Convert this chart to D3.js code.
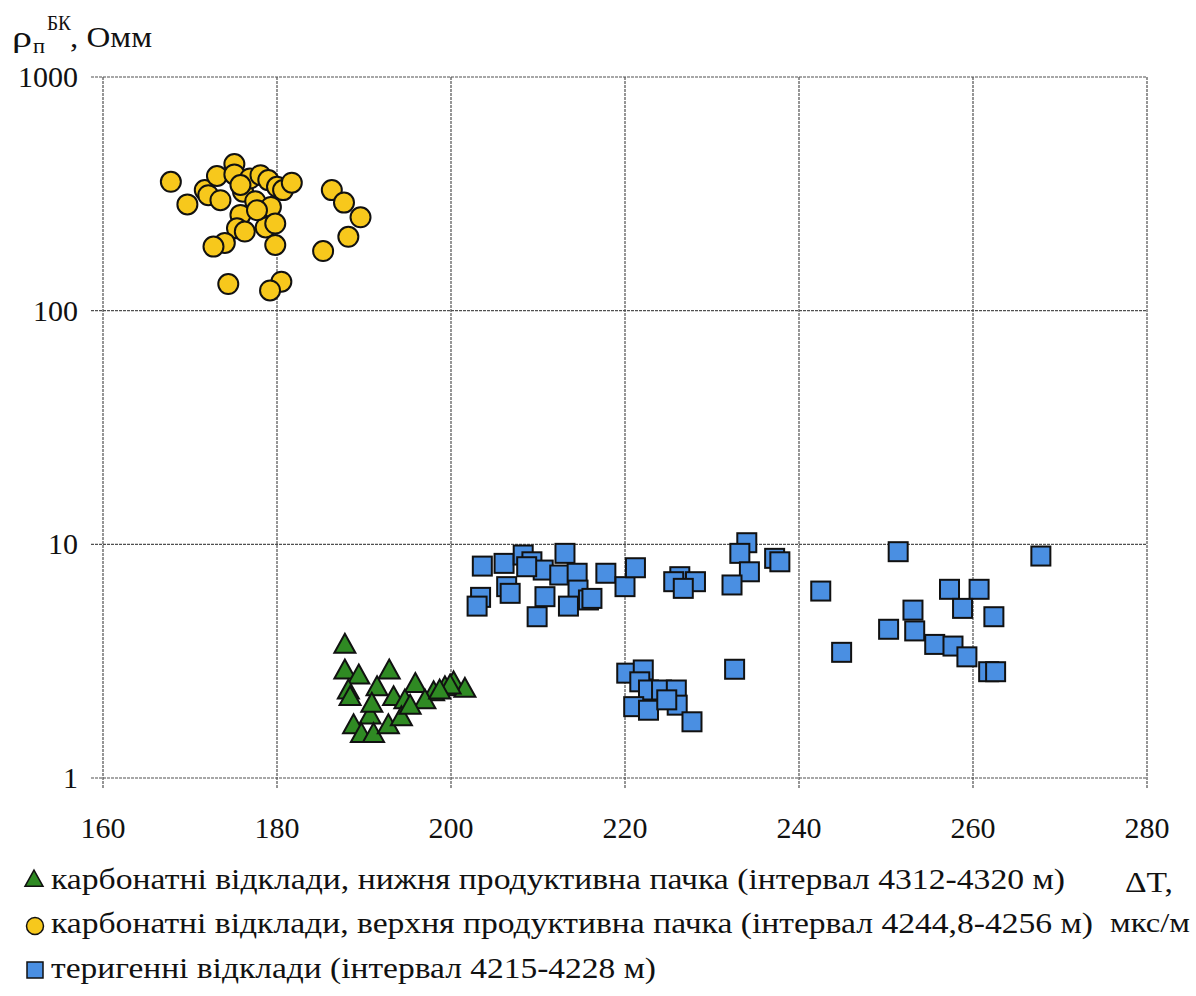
<!DOCTYPE html>
<html>
<head>
<meta charset="utf-8">
<script src="https://cdn.jsdelivr.net/npm/d3@7"></script>
<style>
  html, body { margin: 0; padding: 0; background: #fff; }
</style>
</head>
<body>
<svg id="chart" width="1196" height="996"></svg>
<script>
// Interval travel time ΔT (мкс/м) versus resistivity ρп (Омм), log scale
const xTicks = [160, 180, 200, 220, 240, 260, 280];
const yTicks = [1, 10, 100, 1000];

// карбонатні відклади, нижня продуктивна пачка
const lowerCarbX = [187.8, 187.8, 189.4, 192.9, 191.5, 188.2, 188.4, 195.9, 193.4, 194.7, 190.7, 188.8, 189.7, 191.1, 192.8, 194.3, 198.0, 197.0, 199.3, 200.3, 201.6, 199.9, 198.7, 195.3, 190.9];
const lowerCarbY = [3.74, 2.90, 2.76, 2.90, 2.46, 2.38, 2.23, 2.54, 2.23, 2.16, 1.86, 1.69, 1.55, 1.55, 1.69, 1.83, 2.34, 2.16, 2.46, 2.58, 2.42, 2.50, 2.38, 2.05, 2.09];

// карбонатні відклади, верхня продуктивна пачка
const upperCarbX = [167.8, 169.7, 171.7, 172.1, 173.1, 173.5, 175.1, 175.1, 176.1, 176.9, 177.5, 178.1, 179.0, 180.0, 180.7, 181.7, 179.3, 175.8, 175.4, 176.3, 178.7, 179.8, 174.0, 172.7, 179.8, 174.4, 180.5, 179.2, 186.3, 187.7, 189.6, 188.2, 185.3, 175.8, 177.7];
const upperCarbY = [356, 285, 328, 312, 377, 297, 424, 383, 323, 368, 294, 380, 362, 339, 328, 353, 278, 257, 225, 218, 227, 236, 195, 188, 191, 130, 133, 122, 328, 290, 251, 207, 180, 345, 269];

// теригенні відклади
const terrX = [203.6, 203.4, 203.0, 206.1, 208.3, 209.3, 210.6, 206.4, 206.8, 213.1, 212.5, 214.5, 214.6, 210.8, 209.9, 213.5, 215.8, 217.8, 220.0, 208.7,
               221.2, 216.2, 226.3, 225.6, 228.1, 226.7, 234.0, 233.2, 234.3, 232.3, 237.2, 237.8, 232.6,
               220.2, 222.1, 221.7, 222.7, 224.2, 225.9, 221.0, 222.7, 226.0, 227.7, 224.8,
               251.4, 267.8, 242.5, 257.3, 260.7, 258.8, 253.1, 262.4, 250.3, 253.3, 255.6, 257.7, 259.3, 244.9, 261.8, 262.6];
const terrY = [8.07, 5.93, 5.44, 8.29, 9.00, 8.42, 7.76, 6.59, 6.17, 9.15, 7.39, 7.52, 6.37, 5.97, 4.90, 5.44, 5.78, 7.52, 6.59, 8.02,
               7.94, 5.87, 7.27, 6.92, 6.92, 6.48, 10.16, 9.15, 7.63, 6.70, 8.71, 8.42, 2.92,
               2.81, 2.90, 2.58, 2.38, 2.38, 2.38, 2.02, 1.95, 2.05, 1.74, 2.16,
               9.30, 8.91, 6.31, 6.42, 6.42, 5.32, 5.23, 4.90, 4.33, 4.26, 3.73, 3.67, 3.30, 3.45, 2.85, 2.85];

const legendLabels = [
  "карбонатні відклади, нижня продуктивна пачка (інтервал 4312-4320 м)",
  "карбонатні відклади, верхня продуктивна пачка (інтервал 4244,8-4256 м)",
  "теригенні відклади (інтервал 4215-4228 м)"
];
const legendWidths = [1014, 1042, 605];

const GREEN = "#2f8a23", YELLOW = "#f7c81c", BLUE = "#4a8fe2";

// pick the first installed serif face by comparing canvas text widths
function pickSerif() {
  const candidates = ["Liberation Serif", "Times New Roman", "Tinos", "DejaVu Serif", "Noto Serif", "FreeSerif", "Nimbus Roman"];
  const ctx = document.createElement("canvas").getContext("2d");
  const sample = "карбонатні відклади 4312 ρ mmWWiil";
  const base = {};
  ["monospace", "sans-serif"].forEach(b => {
    ctx.font = `40px ${b}`;
    base[b] = ctx.measureText(sample).width;
  });
  for (const c of candidates) {
    let differs = true;
    for (const b of ["monospace", "sans-serif"]) {
      ctx.font = `40px "${c}", ${b}`;
      if (Math.abs(ctx.measureText(sample).width - base[b]) < 0.01) differs = false;
    }
    if (differs) return `"${c}", serif`;
  }
  return "serif";
}
const FONT = pickSerif();

const svg = d3.select("#chart");
const plotLeft = 103, plotRight = 1147, plotTop = 77, plotBottom = 778;

const x = d3.scaleLinear().domain([160, 280]).range([plotLeft, plotRight]);
const y = d3.scaleLog().domain([1, 1000]).range([plotBottom, plotTop]);

// grid with outward tick marks
const gridColor = "#505050";
const grid = svg.append("g");
grid.selectAll("line.v").data(xTicks).join("line")
  .attr("x1", d => x(d)).attr("x2", d => x(d))
  .attr("y1", plotTop).attr("y2", plotBottom + 11)
  .attr("stroke", gridColor).attr("stroke-width", 1.2).attr("stroke-dasharray", "3,1");
grid.selectAll("line.h").data(yTicks).join("line")
  .attr("x1", plotLeft - 12).attr("x2", plotRight)
  .attr("y1", d => y(d)).attr("y2", d => y(d))
  .attr("stroke", gridColor).attr("stroke-width", 1.2).attr("stroke-dasharray", "3,1");

function txt(sel) {
  return sel.style("font-family", FONT).attr("fill", "#111");
}

// axis labels
txt(svg.append("g").selectAll("text").data(yTicks).join("text"))
  .attr("x", 78).attr("y", d => y(d) + 10)
  .attr("text-anchor", "end").attr("font-size", 30)
  .text(d => d);
txt(svg.append("g").selectAll("text").data(xTicks).join("text"))
  .attr("x", d => x(d)).attr("y", 838)
  .attr("text-anchor", "middle").attr("font-size", 30)
  .text(d => d);

// y-axis title: ρп^БК, Омм
txt(svg.append("text")).attr("x", 12).attr("y", 47).attr("font-size", 30)
  .attr("textLength", 20).attr("lengthAdjust", "spacingAndGlyphs").text("ρ");
txt(svg.append("text")).attr("x", 33).attr("y", 53).attr("font-size", 20)
  .attr("textLength", 12).attr("lengthAdjust", "spacingAndGlyphs").text("п");
txt(svg.append("text")).attr("x", 47).attr("y", 30).attr("font-size", 20)
  .attr("textLength", 24).attr("lengthAdjust", "spacingAndGlyphs").text("БК");
txt(svg.append("text")).attr("x", 70).attr("y", 47).attr("font-size", 30)
  .attr("textLength", 82).attr("lengthAdjust", "spacingAndGlyphs").text(", Омм");

// x-axis title
txt(svg.append("text")).attr("x", 1125).attr("y", 892).attr("font-size", 30)
  .attr("textLength", 48).attr("lengthAdjust", "spacingAndGlyphs").text("ΔT,");
txt(svg.append("text")).attr("x", 1110).attr("y", 932).attr("font-size", 28)
  .attr("textLength", 80).attr("lengthAdjust", "spacingAndGlyphs").text("мкс/м");

// marker shapes
function triPath(s) {
  const h = s * 0.9;
  return `M0,${-h * 0.55}L${s / 2},${h * 0.45}L${-s / 2},${h * 0.45}Z`;
}

const marks = svg.append("g");

// squares
const terr = terrX.map((v, i) => ({ x: v, y: terrY[i] }));
const sq = 19;
marks.append("g").selectAll("rect").data(terr).join("rect")
  .attr("x", d => x(d.x) - sq / 2).attr("y", d => y(d.y) - sq / 2)
  .attr("width", sq).attr("height", sq)
  .attr("fill", BLUE).attr("stroke", "#111").attr("stroke-width", 2);

// triangles
const lower = lowerCarbX.map((v, i) => ({ x: v, y: lowerCarbY[i] }));
marks.append("g").selectAll("path").data(lower).join("path")
  .attr("transform", d => `translate(${x(d.x)},${y(d.y)})`)
  .attr("d", triPath(21))
  .attr("fill", GREEN).attr("stroke", "#111").attr("stroke-width", 2).attr("stroke-linejoin", "miter");

// circles
const upper = upperCarbX.map((v, i) => ({ x: v, y: upperCarbY[i] }));
marks.append("g").selectAll("circle").data(upper).join("circle")
  .attr("cx", d => x(d.x)).attr("cy", d => y(d.y)).attr("r", 10)
  .attr("fill", YELLOW).attr("stroke", "#111").attr("stroke-width", 2);

// legend
const legendY = [889, 933, 978];
const lg = svg.append("g");
lg.append("path").attr("transform", `translate(34,879)`).attr("d", triPath(18))
  .attr("fill", GREEN).attr("stroke", "#111").attr("stroke-width", 1.5);
lg.append("circle").attr("cx", 35).attr("cy", 926).attr("r", 8.5)
  .attr("fill", YELLOW).attr("stroke", "#111").attr("stroke-width", 1.5);
lg.append("rect").attr("x", 27).attr("y", 962).attr("width", 16).attr("height", 16)
  .attr("fill", BLUE).attr("stroke", "#111").attr("stroke-width", 1.5);
txt(lg.selectAll("text.lab").data(legendLabels).join("text"))
  .attr("x", 51).attr("y", (d, i) => legendY[i]).attr("font-size", 30)
  .attr("textLength", (d, i) => legendWidths[i]).attr("lengthAdjust", "spacingAndGlyphs")
  .text(d => d);
</script>
</body>
</html>
